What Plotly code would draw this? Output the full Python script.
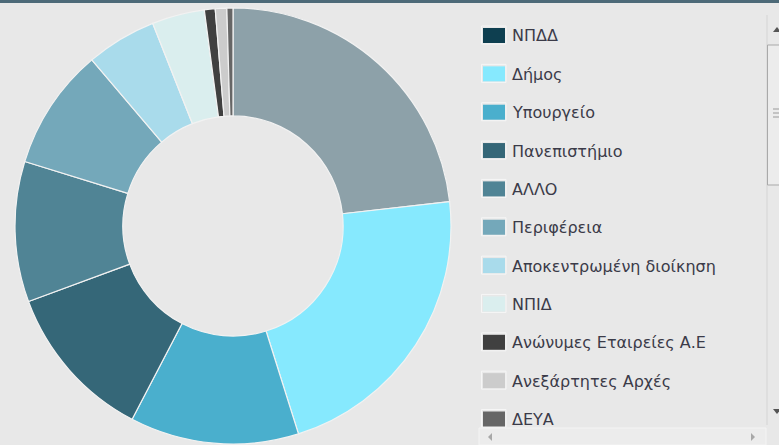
import plotly.graph_objects as go

W, H = 779, 445

labels = ["ΝΠΔΔ", "Δήμος", "Υπουργείο", "Πανεπιστήμιο", "ΑΛΛΟ", "Περιφέρεια",
          "Αποκεντρωμένη διοίκηση", "ΝΠΙΔ", "Ανώνυμες Εταιρείες Α.Ε",
          "Ανεξάρτητες Αρχές", "ΔΕΥΑ"]
values = [23.2, 21.9, 12.5, 11.7, 10.4, 9.0, 5.2, 3.9, 0.8, 0.85, 0.45]
colors = ["#0e3f50", "#86e9fe", "#4aafcd", "#356778", "#508495", "#74a8ba",
          "#a9dbeb", "#daeeee", "#404040", "#cccccc", "#666666"]
slice_alpha = [0.42, 1, 1, 1, 1, 1, 1, 1, 1, 1, 1]


def rgba(hexc, a):
    h = hexc.lstrip("#")
    r, g, b = int(h[0:2], 16), int(h[2:4], 16), int(h[4:6], 16)
    return f"rgba({r},{g},{b},{a})"


def px(x):
    return x / W


def py(y):
    return 1 - y / H


BG = "#e8e8e8"

fig = go.Figure()
cx, cy, R = 233, 226, 218
fig.add_trace(go.Pie(
    labels=labels, values=values, sort=False, direction="clockwise", rotation=0,
    hole=0.505, textinfo="none", hoverinfo="label+percent",
    marker=dict(colors=[rgba(c, a) for c, a in zip(colors, slice_alpha)],
                line=dict(color="#f2f2f2", width=1.2)),
    domain=dict(x=[px(cx - R), px(cx + R)], y=[py(cy + R), py(cy - R)]),
    showlegend=False,
))

shapes = []
annotations = []

# top border line
shapes.append(dict(type="rect", xref="paper", yref="paper", x0=0, x1=1,
                   y0=py(3), y1=1, fillcolor="#4d6a78", line=dict(width=0), layer="above"))

# custom scrolling legend
row0, step = 28, 38.35
for i, (lab, col) in enumerate(zip(labels, colors)):
    top = row0 + step * i
    if top > 430:
        break
    bot = min(top + 15, 427)
    shapes.append(dict(type="rect", xref="paper", yref="paper",
                       x0=px(481.5), x1=px(506), y0=py(min(bot + 1, 427)), y1=py(top - 2),
                       fillcolor="rgba(0,0,0,0)", line=dict(color="#f6f6f6", width=1)))
    shapes.append(dict(type="rect", xref="paper", yref="paper",
                       x0=px(483), x1=px(505), y0=py(bot), y1=py(top),
                       fillcolor=col, line=dict(width=0)))
    annotations.append(dict(xref="paper", yref="paper", x=px(510), y=py(top + 8),
                            xanchor="left", yanchor="middle", showarrow=False,
                            text=lab, font=dict(family="DejaVu Sans", size=16, color="#3b3b48")))

# horizontal scrollbar at bottom of legend panel
shapes.append(dict(type="rect", xref="paper", yref="paper", x0=px(479), x1=px(766),
                   y0=0, y1=py(428), fillcolor="#ececec",
                   line=dict(color="#f4f4f4", width=1), layer="above"))
shapes.append(dict(type="path", xref="paper", yref="paper",
                   path=f"M {px(488)} {py(437)} L {px(492)} {py(433)} L {px(492)} {py(441)} Z",
                   fillcolor="#a8a8a8", line=dict(width=0), layer="above"))
shapes.append(dict(type="path", xref="paper", yref="paper",
                   path=f"M {px(755)} {py(437)} L {px(751)} {py(433)} L {px(751)} {py(441)} Z",
                   fillcolor="#a8a8a8", line=dict(width=0), layer="above"))

# vertical scrollbar
shapes.append(dict(type="line", xref="paper", yref="paper", x0=px(767), x1=px(767),
                   y0=py(425), y1=py(15), line=dict(color="#d4d4d4", width=1)))
shapes.append(dict(type="rect", xref="paper", yref="paper", x0=px(767.5), x1=px(781),
                   y0=py(185), y1=py(45), fillcolor="#ececec",
                   line=dict(color="#a9a9a9", width=1)))
for gy in (109, 113, 117):
    shapes.append(dict(type="line", xref="paper", yref="paper", x0=px(773), x1=px(779),
                       y0=py(gy), y1=py(gy), line=dict(color="#9a9a9a", width=1)))
shapes.append(dict(type="path", xref="paper", yref="paper",
                   path=f"M {px(773)} {py(32)} L {px(777)} {py(27)} L {px(781)} {py(32)} Z",
                   fillcolor="#555555", line=dict(width=0)))
shapes.append(dict(type="path", xref="paper", yref="paper",
                   path=f"M {px(773)} {py(409)} L {px(777)} {py(414)} L {px(781)} {py(409)} Z",
                   fillcolor="#555555", line=dict(width=0)))

fig.update_layout(
    width=W, height=H, margin=dict(l=0, r=0, t=0, b=0),
    paper_bgcolor=BG, plot_bgcolor=BG,
    shapes=shapes, annotations=annotations, showlegend=False,
)

fig.write_html("out.html", config={"displayModeBar": False},
               post_script="document.body.style.margin='0';document.body.style.background='#e8e8e8';")
